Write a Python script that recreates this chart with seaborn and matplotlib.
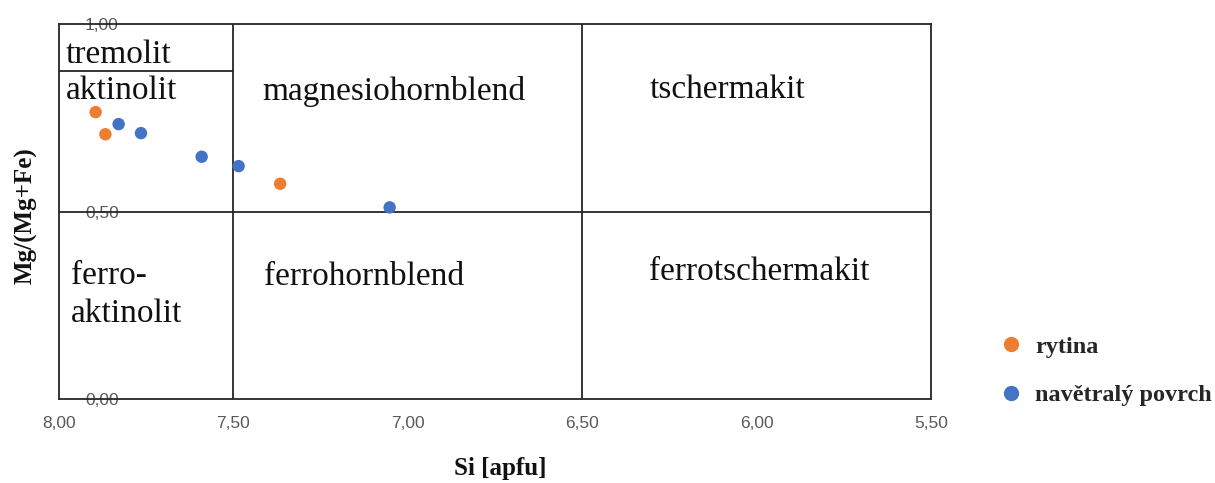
import matplotlib
matplotlib.use("Agg")
import matplotlib.pyplot as plt
import seaborn as sns
import pandas as pd

# Amphibole analyses: Si (apfu) vs. Mg/(Mg+Fe)
rytina_si = [7.895, 7.867, 7.366]
rytina_mg = [0.765, 0.706, 0.574]
povrch_si = [7.829, 7.765, 7.591, 7.485, 7.052]
povrch_mg = [0.733, 0.709, 0.646, 0.621, 0.511]

series_names = ["rytina", "navětralý povrch"]
series_colors = ["#ED7D31", "#4472C4"]

x_ticks = [8.0, 7.5, 7.0, 6.5, 6.0, 5.5]
y_ticks = [0.0, 0.5, 1.0]

# classification field boundaries
si_bounds = [7.5, 6.5]
mg_bound = 0.5
tremolit_bound = 0.875

fields = [
    ("tremolit", 7.98, 0.918),
    ("aktinolit", 7.98, 0.822),
    ("magnesiohornblend", 7.418, 0.820),
    ("tschermakit", 6.308, 0.826),
    ("ferro-\naktinolit", 7.966, 0.278),
    ("ferrohornblend", 7.412, 0.327),
    ("ferrotschermakit", 6.308, 0.340),
]

df = pd.DataFrame({
    "Si": rytina_si + povrch_si,
    "Mg": rytina_mg + povrch_mg,
    "skupina": [series_names[0]] * len(rytina_si) + [series_names[1]] * len(povrch_si),
})

sns.set_theme(style="white")
plt.rcParams["font.family"] = ["Liberation Serif", "DejaVu Serif"]

fig = plt.figure(figsize=(12.15, 4.83), dpi=100)
ax = fig.add_axes([59 / 1215, 1 - 399 / 483, 872 / 1215, 375 / 483])

line_kw = dict(color="#262626", lw=1.3, zorder=1)
for xb in si_bounds:
    ax.axvline(xb, **line_kw)
ax.axhline(mg_bound, **line_kw)
ax.plot([8.0, 7.5], [tremolit_bound, tremolit_bound], **line_kw)

sns.scatterplot(data=df, x="Si", y="Mg", hue="skupina",
                palette=dict(zip(series_names, series_colors)),
                s=80, edgecolor="none", ax=ax, zorder=3)

for txt, fx, fy in fields:
    ax.text(fx, fy, txt, fontsize=24, color="#111111", ha="left", va="center",
            family=["Liberation Serif"], linespacing=1.3)

ax.set_xlim(8.0, 5.5)
ax.set_ylim(0.0, 1.0)
ax.set_xticks(x_ticks)
ax.set_xticklabels([f"{v:.2f}".replace(".", ",") for v in x_ticks])
ax.set_yticks(y_ticks)
ax.set_yticklabels([f"{v:.2f}".replace(".", ",") for v in y_ticks])
ax.tick_params(axis="x", length=0, pad=12, labelsize=12.5, labelcolor="#595959")
ax.tick_params(axis="y", length=0, pad=-43, labelsize=12.5, labelcolor="#595959")
for lab in ax.get_xticklabels() + ax.get_yticklabels():
    lab.set_family(["Liberation Sans"])

for sp in ax.spines.values():
    sp.set_color("#262626")
    sp.set_linewidth(1.3)
    sp.set_visible(True)

ax.set_xlabel("Si [apfu]", fontsize=18, fontweight="bold", color="#111111")
ax.xaxis.set_label_coords(0.506, -0.155)
ax.set_ylabel("Mg/(Mg+Fe)", fontsize=18, fontweight="bold", color="#111111")
ax.yaxis.set_label_coords(-0.025, 0.49)

handles, labels = ax.get_legend_handles_labels()
ax.get_legend().remove()
for h in handles:
    h.set_markersize(11)
fig.legend(handles, labels, loc="center left",
           bbox_to_anchor=(977 / 1215, 1 - 371 / 483),
           frameon=False, prop={"weight": "bold", "size": 17.5},
           handlelength=1.0, handletextpad=0.5, labelspacing=1.1,
           borderpad=0.4)

fig.savefig("out.png", dpi=100)
